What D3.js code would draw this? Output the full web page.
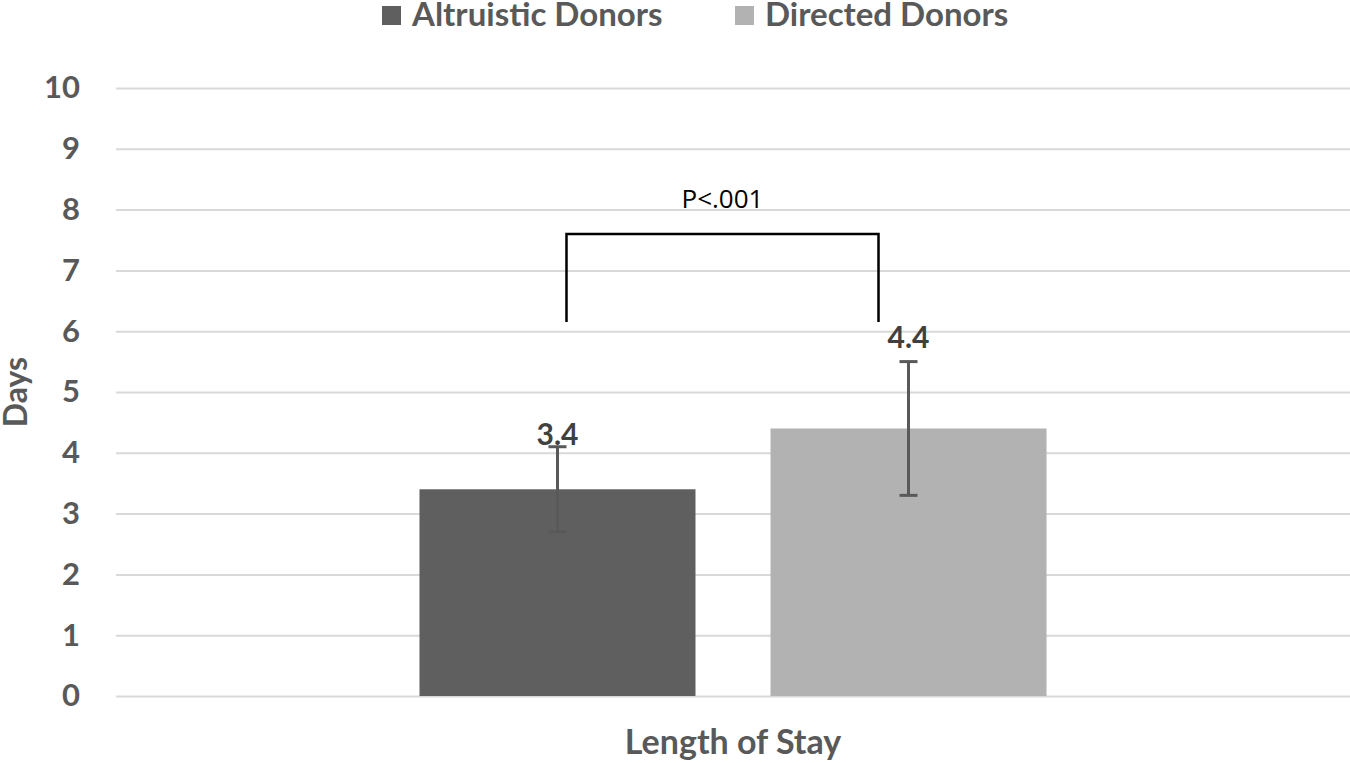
<!DOCTYPE html>
<html>
<head>
<meta charset="utf-8">
<script src="https://cdn.jsdelivr.net/npm/d3@7"></script>
<style>
  body { margin: 0; background: #fff; }
  svg { display: block; font-family: Lato, "Open Sans", sans-serif; }
</style>
</head>
<body>
<svg id="chart" width="1350" height="763"></svg>
<script>
// data
const categories = ['Length of Stay'];
const seriesNames = ['Altruistic Donors', 'Directed Donors'];
const means = [3.4, 4.4];
const errLow = [2.7, 3.3];
const errHigh = [4.1, 5.5];
const yTicks = [0, 1, 2, 3, 4, 5, 6, 7, 8, 9, 10];
const pLabel = 'P<.001';

const colors = ['#5f5f5f', '#b2b2b2'];
const textGrey = '#595959';

const svg = d3.select('#chart');
const plotLeft = 116, plotRight = 1350, plotTop = 88, plotBottom = 696;

const y = d3.scaleLinear().domain([0, 10]).range([plotBottom, plotTop]);

const x0 = d3.scaleBand()
    .domain(categories)
    .range([plotLeft, plotRight])
    .paddingOuter(0.484);

const x1 = d3.scaleBand()
    .domain(seriesNames)
    .range([0, x0.bandwidth()])
    .paddingInner(0.2137);

// gridlines
svg.append('g')
    .attr('transform', `translate(${plotLeft},0)`)
    .call(d3.axisLeft(y).tickValues(yTicks).tickSize(-(plotRight - plotLeft)).tickFormat(''))
    .call(g => g.select('.domain').remove())
    .call(g => g.selectAll('line').attr('stroke', '#d9d9d9').attr('stroke-width', 2));

// y tick labels
svg.append('g')
    .attr('transform', 'translate(80,0)')
    .call(d3.axisLeft(y).tickValues(yTicks).tickSize(0).tickPadding(0))
    .call(g => g.select('.domain').remove())
    .call(g => g.selectAll('text')
        .attr('fill', textGrey)
        .attr('font-size', 31)
        .attr('font-weight', 'bold')
        .attr('font-family', 'Lato, "Open Sans", sans-serif'));

const group = svg.append('g')
    .attr('transform', `translate(${x0(categories[0])},0)`);

// bars
group.selectAll('rect.bar')
    .data(seriesNames)
    .join('rect')
    .attr('class', 'bar')
    .attr('x', d => x1(d))
    .attr('width', x1.bandwidth())
    .attr('y', (d, i) => y(means[i]))
    .attr('height', (d, i) => y(0) - y(means[i]))
    .attr('fill', (d, i) => colors[i]);

// error bars
const errs = group.selectAll('g.err')
    .data(seriesNames)
    .join('g')
    .attr('class', 'err')
    .attr('transform', d => `translate(${x1(d) + x1.bandwidth() / 2},0)`);

errs.append('line')
    .attr('y1', (d, i) => y(errLow[i]))
    .attr('y2', (d, i) => y(errHigh[i]))
    .attr('stroke', textGrey).attr('stroke-width', 3);
errs.append('line')
    .attr('x1', -9).attr('x2', 9)
    .attr('y1', (d, i) => y(errLow[i])).attr('y2', (d, i) => y(errLow[i]))
    .attr('stroke', textGrey).attr('stroke-width', 3);
errs.append('line')
    .attr('x1', -9).attr('x2', 9)
    .attr('y1', (d, i) => y(errHigh[i])).attr('y2', (d, i) => y(errHigh[i]))
    .attr('stroke', textGrey).attr('stroke-width', 3);

// value labels (Excel placed them a little differently above each error bar)
const labelGap = [2, 14];
errs.append('text')
    .attr('text-anchor', 'middle')
    .attr('y', (d, i) => y(errHigh[i]) - labelGap[i])
    .attr('fill', '#404040')
    .attr('font-size', 30)
    .attr('font-weight', 'bold')
    .text((d, i) => means[i].toFixed(1));

// significance bracket
const bx1 = x1(seriesNames[0]) + x1.bandwidth() / 2 + 9;
const bx2 = x1(seriesNames[1]) + x1.bandwidth() / 2 - 30;
const bTop = y(7.6), bBot = y(6.15);
group.append('path')
    .attr('d', `M${bx1},${bBot}V${bTop}H${bx2}V${bBot}`)
    .attr('fill', 'none')
    .attr('stroke', '#000')
    .attr('stroke-width', 2.5);
group.append('text')
    .attr('x', (bx1 + bx2) / 2)
    .attr('y', y(8.02))
    .attr('text-anchor', 'middle')
    .attr('font-size', 26)
    .attr('font-family', '"Open Sans", sans-serif')
    .attr('fill', '#000')
    .text(pLabel);

// axis titles
svg.append('text')
    .attr('x', (plotLeft + plotRight) / 2)
    .attr('y', 754)
    .attr('text-anchor', 'middle')
    .attr('fill', textGrey)
    .attr('font-size', 34)
    .attr('font-weight', 'bold')
    .text(categories[0]);

svg.append('text')
    .attr('transform', `translate(27,392) rotate(-90)`)
    .attr('text-anchor', 'middle')
    .attr('fill', textGrey)
    .attr('font-size', 32)
    .attr('font-weight', 'bold')
    .text('Days');

// legend
const legendX = [382, 735];
const legend = svg.append('g').selectAll('g')
    .data(seriesNames)
    .join('g')
    .attr('transform', (d, i) => `translate(${legendX[i]},0)`);
legend.append('rect')
    .attr('y', 6).attr('width', 19).attr('height', 19)
    .attr('fill', (d, i) => colors[i]);
legend.append('text')
    .attr('x', 30).attr('y', 26)
    .attr('fill', textGrey)
    .attr('font-size', 33)
    .attr('font-weight', 'bold')
    .text(d => d);
</script>
</body>
</html>
